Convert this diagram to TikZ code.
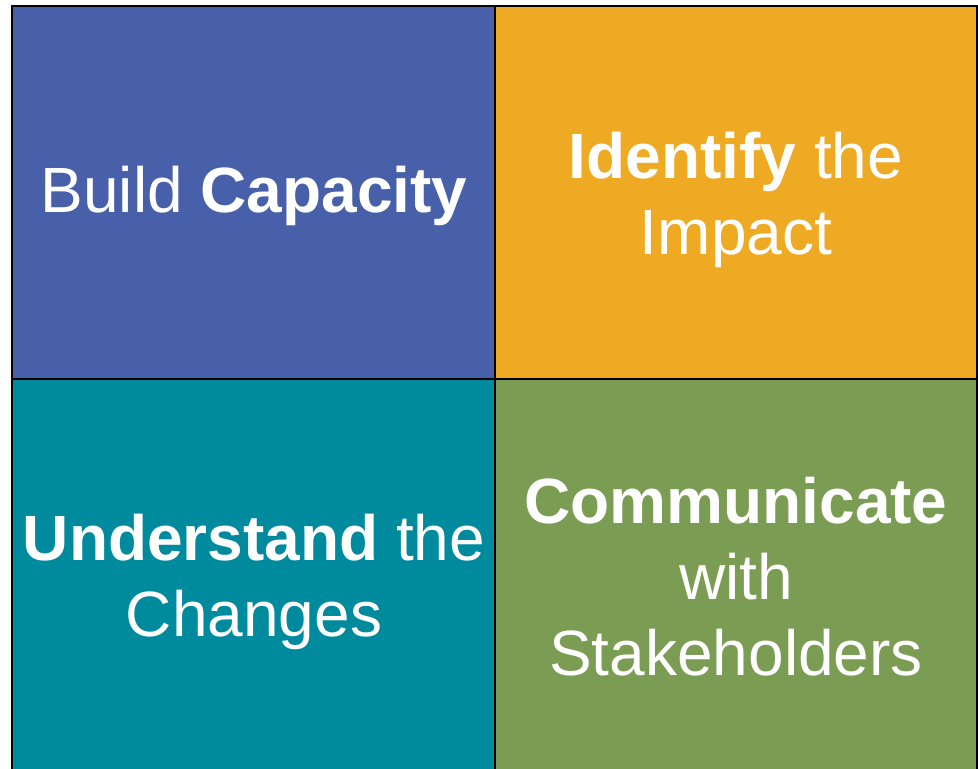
\documentclass[tikz,border=0pt]{standalone}
\usepackage{fontspec}
\setmainfont{Liberation Sans}
\definecolor{qblue}{RGB}{71,96,169}
\definecolor{qorange}{RGB}{238,170,34}
\definecolor{qteal}{RGB}{0,138,158}
\definecolor{qgreen}{RGB}{122,156,83}
\tikzset{
  quad/.style={draw=black, line width=2.5pt},
  qtext/.style={text=white, align=center, font=\fontsize{64}{76}\selectfont, inner sep=0pt}
}
\begin{document}
\begin{tikzpicture}[x=1pt,y=-1pt]
\useasboundingbox (0,0) rectangle (978,769);
\fill[white] (0,0) rectangle (978,769);
\filldraw[quad, fill=qblue] (12,6) rectangle (495,379);
\filldraw[quad, fill=qorange] (495,6) rectangle (977,379);
\filldraw[quad, fill=qteal] (12,379) rectangle (495,790);
\filldraw[quad, fill=qgreen] (495,379) rectangle (977,790);
\node[qtext] (tl) at (254,196) {Build \textbf{Capacity}};
\node[qtext] (tr) at (736,200) {\textbf{Identify} the\\Impact};
\node[qtext] (bl) at (254,582) {\textbf{Understand} the\\Changes};
\node[qtext] (br) at (736,577) {\textbf{Communicate}\\with\\Stakeholders};
\end{tikzpicture}
\end{document}
